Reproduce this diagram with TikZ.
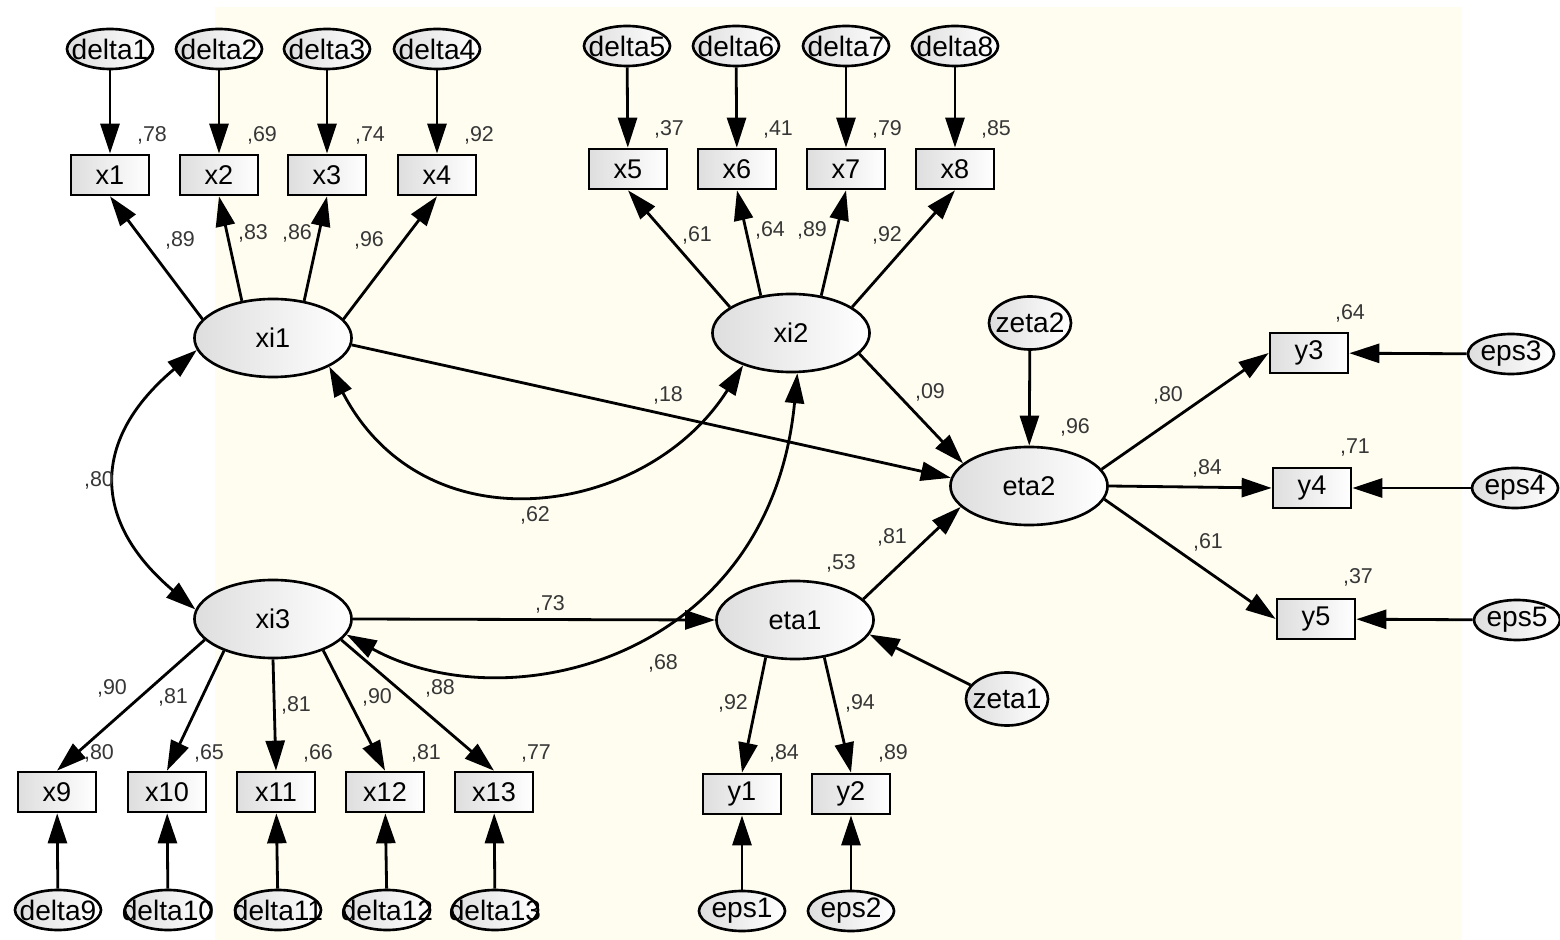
\documentclass[tikz,border=0pt]{standalone}
\usepackage{fontspec}
\setmainfont{Liberation Sans}
\usetikzlibrary{shapes.geometric,arrows.meta}
\definecolor{cream}{RGB}{255,253,240}
\definecolor{valgray}{RGB}{55,55,55}
\newcommand\mklab[1]{\makebox[0pt]{#1}}
\newcommand\nfont{\fontsize{7.7pt}{9pt}\selectfont}
\newcommand\efont{\fontsize{8pt}{9pt}\selectfont}
\newcommand\vfont{\fontsize{6.1pt}{7pt}\selectfont}
\begin{document}
\begin{tikzpicture}[x=0.01cm,y=-0.01cm,
  shp/.style={draw=black, line width=0.75pt, inner sep=0pt, font=\nfont,
              left color=black!13, right color=white},
  lat/.style={shp, ellipse, minimum width=1.57cm, minimum height=0.78cm},
  err/.style={shp, ellipse, font=\efont, minimum width=0.86cm, minimum height=0.40cm},
  zet/.style={shp, ellipse, font=\efont, minimum width=0.82cm, minimum height=0.53cm},
  obs/.style={shp, rectangle, minimum width=0.78cm, minimum height=0.40cm},
  val/.style={font=\vfont, text=valgray, inner sep=0pt},
  arr/.style={-{Triangle[length=0.30cm,width=0.19cm]}, line width=0.8pt},
  cov/.style={{Triangle[length=0.30cm,width=0.19cm]}-{Triangle[length=0.30cm,width=0.19cm]}, line width=0.8pt}
]
\path[use as bounding box] (0,0) rectangle (1560,940);
\fill[white] (0,0) rectangle (1560,940);
\fill[cream] (215,7) rectangle (1462,940);

% ---------- top left block ----------
\node[err] (d1) at (110,49) {\mklab{delta1}};
\node[err] (d2) at (219,49) {\mklab{delta2}};
\node[err] (d3) at (327,49) {\mklab{delta3}};
\node[err] (d4) at (437,49) {\mklab{delta4}};
\node[obs] (x1) at (110,175) {\mklab{x1}};
\node[obs] (x2) at (219,175) {\mklab{x2}};
\node[obs] (x3) at (327,175) {\mklab{x3}};
\node[obs] (x4) at (437,175) {\mklab{x4}};
\node[lat] (xi1) at (273,338) {\mklab{xi1}};

% ---------- top middle block ----------
\node[err] (d5) at (627,46) {\mklab{delta5}};
\node[err] (d6) at (736,46) {\mklab{delta6}};
\node[err] (d7) at (846,46) {\mklab{delta7}};
\node[err] (d8) at (955,46) {\mklab{delta8}};
\node[obs] (x5) at (628,169) {\mklab{x5}};
\node[obs] (x6) at (737,169) {\mklab{x6}};
\node[obs] (x7) at (846,169) {\mklab{x7}};
\node[obs] (x8) at (955,169) {\mklab{x8}};
\node[lat] (xi2) at (791,333) {\mklab{xi2}};

% ---------- right block ----------
\node[zet] (z2) at (1030,323) {\mklab{zeta2}};
\node[lat] (eta2) at (1029,486) {\mklab{eta2}};
\node[obs] (y3) at (1309,353) {\mklab{y3}};
\node[obs] (y4) at (1312,488) {\mklab{y4}};
\node[obs] (y5) at (1316,619) {\mklab{y5}};
\node[err] (e3) at (1511,354) {\mklab{eps3}};
\node[err] (e4) at (1515,488) {\mklab{eps4}};
\node[err] (e5) at (1517,620) {\mklab{eps5}};

% ---------- bottom block ----------
\node[lat] (xi3) at (273,619) {\mklab{xi3}};
\node[obs] (x9) at (57,792) {\mklab{x9}};
\node[obs] (x10) at (167,792) {\mklab{x10}};
\node[obs] (x11) at (276,792) {\mklab{x11}};
\node[obs] (x12) at (385,792) {\mklab{x12}};
\node[obs] (x13) at (494,792) {\mklab{x13}};
\node[err] (d9) at (58,910) {\mklab{delta9}};
\node[err] (d10) at (168,910) {\mklab{delta10}};
\node[err] (d11) at (278,910) {\mklab{delta11}};
\node[err] (d12) at (387,910) {\mklab{delta12}};
\node[err] (d13) at (495,910) {\mklab{delta13}};

\node[lat] (eta1) at (795,620) {\mklab{eta1}};
\node[zet] (z1) at (1007,699) {\mklab{zeta1}};
\node[obs] (y1) at (742,794) {\mklab{y1}};
\node[obs] (y2) at (851,794) {\mklab{y2}};
\node[err] (e1) at (742,911) {\mklab{eps1}};
\node[err] (e2) at (851,911) {\mklab{eps2}};

% ---------- error arrows ----------
\foreach \a/\b in {d1/x1,d2/x2,d3/x3,d4/x4,d5/x5,d6/x6,d7/x7,d8/x8,
                   d9/x9,d10/x10,d11/x11,d12/x12,d13/x13,e1/y1,e2/y2,
                   e3/y3,e4/y4,e5/y5,z2/eta2}
  \draw[arr] (\a) -- (\b);

% ---------- loadings ----------
\draw[arr] (xi1.165) -- (x1.south);
\draw[arr] (xi1.130) -- (x2.south);
\draw[arr] (xi1.50) -- (x3.south);
\draw[arr] (xi1.15) -- (x4.south);
\draw[arr] (xi2.157) -- (x5.south);
\draw[arr] (xi2.129) -- (x6.south);
\draw[arr] (xi2.51) -- (x7.south);
\draw[arr] (xi2.23) -- (x8.south);
\draw[arr] (xi3.197) -- (x9.north);
\draw[arr] (xi3.213) -- (x10.north);
\draw[arr] (xi3.270) -- (x11.north);
\draw[arr] (xi3.328) -- (x12.north);
\draw[arr] (xi3.343) -- (x13.north);
\draw[arr] (eta1.232) -- (y1.north);
\draw[arr] (eta1.308) -- (y2.north);
\draw[arr] (eta2.13) -- (y3.west);
\draw[arr] (eta2.east) -- (y4.west);
\draw[arr] (eta2.350) -- (y5.west);

% ---------- structural paths ----------
\draw[arr] (xi1.355) -- (eta2.174);
\draw[arr] (xi2.343) -- (eta2.161);
\draw[arr] (eta1.17) -- (eta2.197);
\draw[arr] (xi3.east) -- (eta1.west);
\draw[arr] (z1.159) -- (eta1.349);

% ---------- covariances ----------
\draw[cov] (xi1.189) .. controls (91,439) and (91,521) .. (xi3.173);
\draw[cov] (xi1.333) .. controls (426,552) and (648,516) .. (xi2.214);
\draw[cov] (xi3.348) .. controls (507,723) and (770,660) .. (xi2.279);

% ---------- values ----------
\node[val] (r1) at (152,135) {,78};
\node[val] (r2) at (262,135) {,69};
\node[val] (r3) at (370,135) {,74};
\node[val] (r4) at (479,135) {,92};
\node[val] (l1) at (180,240) {,89};
\node[val] (l2) at (253,233) {,83};
\node[val] (l3) at (297,233) {,86};
\node[val] (l4) at (369,240) {,96};
\node[val] (r5) at (669,129) {,37};
\node[val] (r6) at (778,129) {,41};
\node[val] (r7) at (887,129) {,79};
\node[val] (r8) at (996,129) {,85};
\node[val] (l5) at (697,235) {,61};
\node[val] (l6) at (770,230) {,64};
\node[val] (l7) at (812,230) {,89};
\node[val] (l8) at (887,235) {,92};
\node[val] (g18) at (668,395) {,18};
\node[val] (g09) at (930,392) {,09};
\node[val] (reta2) at (1075,427) {,96};
\node[val] (g81) at (892,537) {,81};
\node[val] (reta1) at (841,563) {,53};
\node[val] (c80) at (99,480) {,80};
\node[val] (c62) at (535,515) {,62};
\node[val] (c68) at (663,663) {,68};
\node[val] (g73) at (550,604) {,73};
\node[val] (ry3) at (1350,313) {,64};
\node[val] (ry4) at (1355,447) {,71};
\node[val] (ry5) at (1358,577) {,37};
\node[val] (ly3) at (1168,395) {,80};
\node[val] (ly4) at (1207,468) {,84};
\node[val] (ly5) at (1208,542) {,61};
\node[val] (l9) at (112,688) {,90};
\node[val] (l10) at (173,697) {,81};
\node[val] (l11) at (296,705) {,81};
\node[val] (l12) at (377,697) {,90};
\node[val] (l13) at (440,688) {,88};
\node[val] (r9) at (99,753) {,80};
\node[val] (r10) at (209,753) {,65};
\node[val] (r11) at (318,753) {,66};
\node[val] (r12) at (426,753) {,81};
\node[val] (r13) at (536,753) {,77};
\node[val] (ly1) at (733,703) {,92};
\node[val] (ly2) at (860,703) {,94};
\node[val] (ry1) at (784,753) {,84};
\node[val] (ry2) at (893,753) {,89};
\end{tikzpicture}
\end{document}
